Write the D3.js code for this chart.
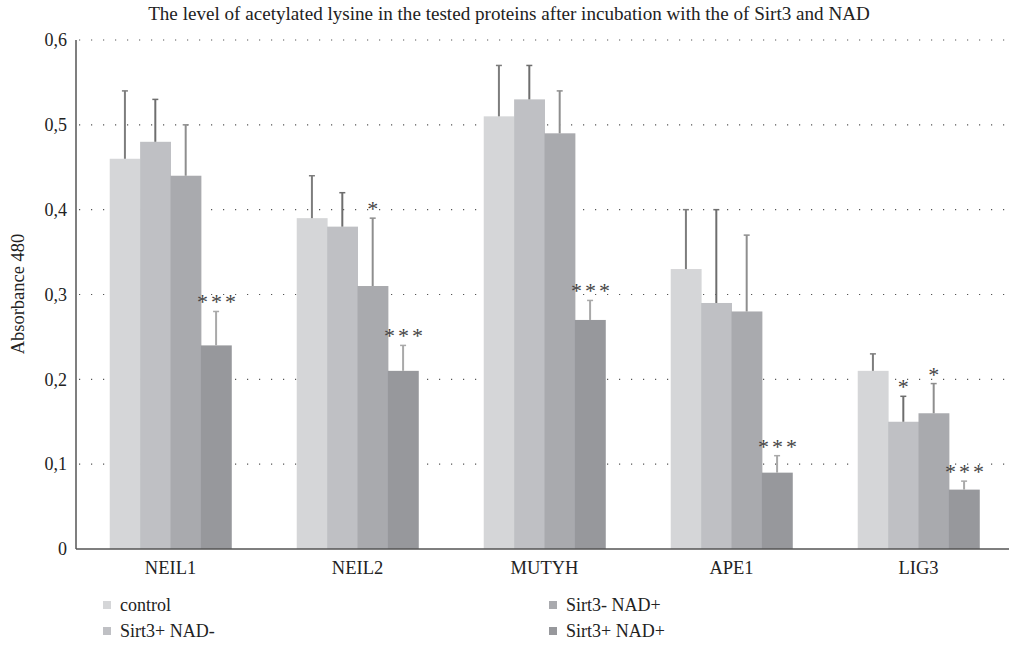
<!DOCTYPE html>
<html><head><meta charset="utf-8">
<script src="https://cdn.jsdelivr.net/npm/d3@7"></script>
</head><body style="margin:0;background:#fff"><svg id="c" width="1009" height="652" font-family="Liberation Serif"></svg>
<script>
const categories = ["NEIL1","NEIL2","MUTYH","APE1","LIG3"];
const seriesNames = ["control","Sirt3+ NAD-","Sirt3- NAD+","Sirt3+ NAD+"];
const control   = [0.46,0.39,0.51,0.33,0.21];
const sirtNadMinus = [0.48,0.38,0.53,0.29,0.15];
const sirtMinusNad = [0.44,0.31,0.49,0.28,0.16];
const sirtNadPlus  = [0.24,0.21,0.27,0.09,0.07];
const errControl = [0.08,0.05,0.06,0.07,0.02];
const errSirtNadMinus = [0.05,0.04,0.04,0.11,0.03];
const errSirtMinusNad = [0.06,0.08,0.05,0.09,0.035];
const errSirtNadPlus  = [0.04,0.03,0.023,0.02,0.01];
const sigSirtNadMinus = ["","","","","*"];
const sigSirtMinusNad = ["","*","","","*"];
const sigSirtNadPlus  = ["***","***","***","***","***"];
const yTicks = [0,0.1,0.2,0.3,0.4,0.5,0.6];
const title = "The level of acetylated lysine in the tested proteins after incubation with the of Sirt3 and NAD";

const FONT = "Liberation Serif";
const colors = ["#d5d6d8","#bfc0c4","#a9aaae","#97989c"];
const errColors = ["#7d7d7d","#6e6e6e","#8e8e8e","#a9a9a9"];
const values = [control,sirtNadMinus,sirtMinusNad,sirtNadPlus];
const errs = [errControl,errSirtNadMinus,errSirtMinusNad,errSirtNadPlus];
const sigs = [["","","","",""],sigSirtNadMinus,sigSirtMinusNad,sigSirtNadPlus];

const svg = d3.select("#c");
const x0 = d3.scaleBand().domain(categories).range([77,1012]).paddingInner(0.35).paddingOuter(0.175);
const x1 = d3.scaleBand().domain(d3.range(4)).range([0,x0.bandwidth()]);
const y = d3.scaleLinear().domain([0,0.6]).range([549,40]);

// grid
svg.append("g").selectAll("line").data(yTicks.filter(d=>d>0)).join("line")
  .attr("x1",79).attr("x2",1009).attr("y1",d=>y(d)).attr("y2",d=>y(d))
  .attr("stroke","#555").attr("stroke-width",1.2).attr("stroke-dasharray","1.2,10.8");

// bars
const g = svg.append("g");
categories.forEach((c,ci)=>{
  values.forEach((vals,si)=>{
    const bx = x0(c)+x1(si);
    g.append("rect").attr("x",bx).attr("y",y(vals[ci])).attr("width",x1.bandwidth()+0.5).attr("height",y(0)-y(vals[ci])).attr("fill",colors[si]);
  });
});
categories.forEach((c,ci)=>{
  values.forEach((vals,si)=>{
    const cx = x0(c)+x1(si)+x1.bandwidth()/2;
    const top = y(vals[ci]+errs[si][ci]);
    g.append("line").attr("x1",cx).attr("x2",cx).attr("y1",y(vals[ci])).attr("y2",top).attr("stroke",errColors[si]).attr("stroke-width",2);
    g.append("line").attr("x1",cx-3).attr("x2",cx+3).attr("y1",top).attr("y2",top).attr("stroke",errColors[si]).attr("stroke-width",1.5);
    const s = sigs[si][ci];
    if(s){
      g.append("text").attr("x",cx + (s.length>1?2:0)).attr("y",top-2).attr("text-anchor","middle")
        .attr("font-family",FONT).attr("font-size",22).attr("letter-spacing", s.length>1?3:0)
        .attr("fill","#444").text(s);
    }
  });
});

// axes
const yAxis = svg.append("g").attr("transform","translate(76,0)")
  .call(d3.axisLeft(y).tickValues(yTicks).tickSize(0).tickPadding(9).tickFormat(d=>d===0?"0":d3.format(".1f")(d).replace(".",",")));
yAxis.attr("font-family",FONT).attr("font-size",18);
yAxis.select(".domain").attr("stroke","#555").attr("stroke-width",1.5).attr("d","M0,40V549");
yAxis.selectAll("text").attr("font-family",FONT).attr("font-size",18).attr("fill","#222");

const xAxis = svg.append("g").attr("transform","translate(0,549)")
  .call(d3.axisBottom(x0).tickSize(0).tickPadding(12));
xAxis.attr("font-family",FONT).attr("font-size",18.5);
xAxis.select(".domain").attr("stroke","#555").attr("stroke-width",1.5).attr("d","M76,0H1009");
xAxis.selectAll("text").attr("font-family",FONT).attr("font-size",18.5).attr("fill","#222");

const t = svg.append("text").attr("x",509).attr("y",20).attr("text-anchor","middle")
  .attr("font-family",FONT).attr("font-size",17).attr("fill","#222").text(title);
const w = t.node().getComputedTextLength();
t.attr("font-size",(17*722/w).toFixed(2));
svg.append("text").attr("transform","translate(24,294) rotate(-90)").attr("text-anchor","middle")
  .attr("font-family",FONT).attr("font-size",18.5).attr("fill","#222").text("Absorbance 480");

// legend
const legPos = [[103,611],[103,637],[549,611],[549,637]];
seriesNames.forEach((n,i)=>{
  svg.append("rect").attr("x",legPos[i][0]).attr("y",legPos[i][1]-10).attr("width",8).attr("height",8).attr("fill",colors[i]);
  svg.append("text").attr("x",legPos[i][0]+17).attr("y",legPos[i][1]).attr("font-family",FONT).attr("font-size",18).attr("fill","#222").text(n);
});
</script></body></html>
